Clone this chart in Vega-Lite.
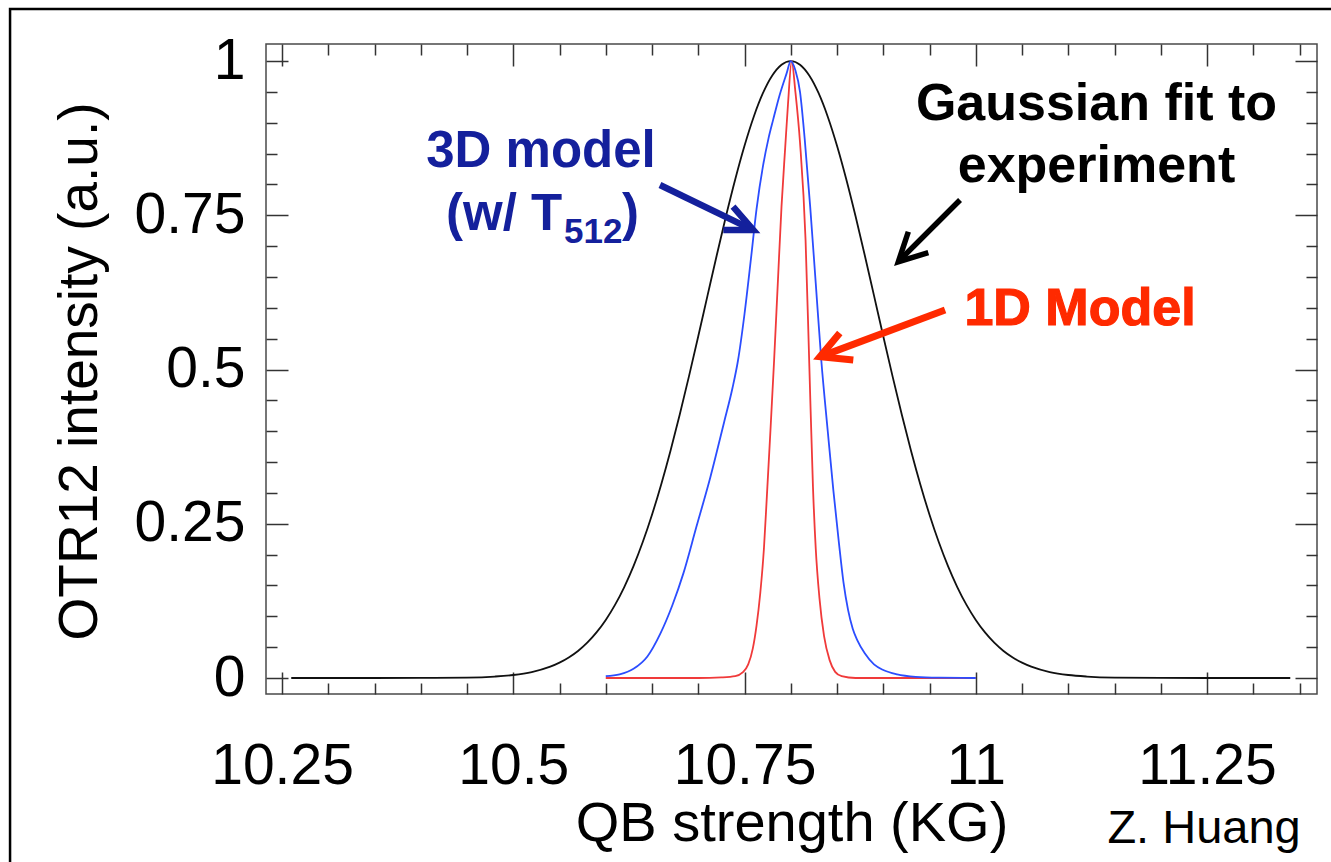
{
  "$schema": "https://vega.github.io/schema/vega-lite/v6.json",
  "width": 1051,
  "height": 650,
  "autosize": {"type": "none"},
  "padding": {"left": 266, "top": 44, "right": 14, "bottom": 168},
  "background": "white",
  "config": {"view": {"stroke": "#4a4a4a", "strokeWidth": 1.5}, "font": "Liberation Sans"},
  "datasets": {
    "curves": [
      {"s": "fit", "x": 10.26, "y": 0}, {"s": "fit", "x": 10.30, "y": 0}, {"s": "fit", "x": 10.35, "y": 0}, {"s": "fit", "x": 10.40, "y": 0.0001}, {"s": "fit", "x": 10.45, "y": 0.0007}, {"s": "fit", "x": 10.48, "y": 0.0024}, {"s": "fit", "x": 10.50, "y": 0.0049}, {"s": "fit", "x": 10.52, "y": 0.0097}, {"s": "fit", "x": 10.54, "y": 0.0184}, {"s": "fit", "x": 10.55, "y": 0.0249}, {"s": "fit", "x": 10.56, "y": 0.0333}, {"s": "fit", "x": 10.57, "y": 0.0439}, {"s": "fit", "x": 10.58, "y": 0.0573}, {"s": "fit", "x": 10.59, "y": 0.0739}, {"s": "fit", "x": 10.60, "y": 0.0941}, {"s": "fit", "x": 10.61, "y": 0.1185}, {"s": "fit", "x": 10.62, "y": 0.1475}, {"s": "fit", "x": 10.63, "y": 0.1814}, {"s": "fit", "x": 10.64, "y": 0.2204}, {"s": "fit", "x": 10.65, "y": 0.2647}, {"s": "fit", "x": 10.66, "y": 0.3142}, {"s": "fit", "x": 10.67, "y": 0.3685}, {"s": "fit", "x": 10.68, "y": 0.4271}, {"s": "fit", "x": 10.69, "y": 0.4893}, {"s": "fit", "x": 10.70, "y": 0.5539}, {"s": "fit", "x": 10.71, "y": 0.6197}, {"s": "fit", "x": 10.72, "y": 0.6852}, {"s": "fit", "x": 10.73, "y": 0.7487}, {"s": "fit", "x": 10.74, "y": 0.8084}, {"s": "fit", "x": 10.75, "y": 0.8627}, {"s": "fit", "x": 10.76, "y": 0.9098}, {"s": "fit", "x": 10.77, "y": 0.9482}, {"s": "fit", "x": 10.78, "y": 0.9766}, {"s": "fit", "x": 10.79, "y": 0.9941}, {"s": "fit", "x": 10.80, "y": 1}, {"s": "fit", "x": 10.81, "y": 0.9941}, {"s": "fit", "x": 10.82, "y": 0.9766}, {"s": "fit", "x": 10.83, "y": 0.9482}, {"s": "fit", "x": 10.84, "y": 0.9098}, {"s": "fit", "x": 10.85, "y": 0.8627}, {"s": "fit", "x": 10.86, "y": 0.8084}, {"s": "fit", "x": 10.87, "y": 0.7487}, {"s": "fit", "x": 10.88, "y": 0.6852}, {"s": "fit", "x": 10.89, "y": 0.6197}, {"s": "fit", "x": 10.90, "y": 0.5539}, {"s": "fit", "x": 10.91, "y": 0.4893}, {"s": "fit", "x": 10.92, "y": 0.4271}, {"s": "fit", "x": 10.93, "y": 0.3685}, {"s": "fit", "x": 10.94, "y": 0.3142}, {"s": "fit", "x": 10.95, "y": 0.2647}, {"s": "fit", "x": 10.96, "y": 0.2204}, {"s": "fit", "x": 10.97, "y": 0.1814}, {"s": "fit", "x": 10.98, "y": 0.1475}, {"s": "fit", "x": 10.99, "y": 0.1185}, {"s": "fit", "x": 11.00, "y": 0.0941}, {"s": "fit", "x": 11.01, "y": 0.0739}, {"s": "fit", "x": 11.02, "y": 0.0573}, {"s": "fit", "x": 11.03, "y": 0.0439}, {"s": "fit", "x": 11.04, "y": 0.0333}, {"s": "fit", "x": 11.05, "y": 0.0249}, {"s": "fit", "x": 11.06, "y": 0.0184}, {"s": "fit", "x": 11.08, "y": 0.0097}, {"s": "fit", "x": 11.10, "y": 0.0049}, {"s": "fit", "x": 11.12, "y": 0.0024}, {"s": "fit", "x": 11.15, "y": 0.0007}, {"s": "fit", "x": 11.20, "y": 0.0001}, {"s": "fit", "x": 11.25, "y": 0}, {"s": "fit", "x": 11.30, "y": 0}, {"s": "fit", "x": 11.34, "y": 0},
      {"s": "1d", "x": 10.600, "y": 0}, {"s": "1d", "x": 10.700, "y": 0}, {"s": "1d", "x": 10.725, "y": 0.001}, {"s": "1d", "x": 10.740, "y": 0.003}, {"s": "1d", "x": 10.748, "y": 0.009}, {"s": "1d", "x": 10.754, "y": 0.022}, {"s": "1d", "x": 10.759, "y": 0.048}, {"s": "1d", "x": 10.763, "y": 0.085}, {"s": "1d", "x": 10.767, "y": 0.137}, {"s": "1d", "x": 10.771, "y": 0.21}, {"s": "1d", "x": 10.774, "y": 0.29}, {"s": "1d", "x": 10.778, "y": 0.40}, {"s": "1d", "x": 10.782, "y": 0.515}, {"s": "1d", "x": 10.786, "y": 0.64}, {"s": "1d", "x": 10.790, "y": 0.764}, {"s": "1d", "x": 10.794, "y": 0.86}, {"s": "1d", "x": 10.797, "y": 0.93}, {"s": "1d", "x": 10.801, "y": 1.0}, {"s": "1d", "x": 10.805, "y": 0.95}, {"s": "1d", "x": 10.810, "y": 0.868}, {"s": "1d", "x": 10.816, "y": 0.71}, {"s": "1d", "x": 10.820, "y": 0.51}, {"s": "1d", "x": 10.824, "y": 0.31}, {"s": "1d", "x": 10.827, "y": 0.21}, {"s": "1d", "x": 10.831, "y": 0.13}, {"s": "1d", "x": 10.836, "y": 0.068}, {"s": "1d", "x": 10.842, "y": 0.029}, {"s": "1d", "x": 10.848, "y": 0.010}, {"s": "1d", "x": 10.855, "y": 0.003}, {"s": "1d", "x": 10.870, "y": 0}, {"s": "1d", "x": 10.950, "y": 0}, {"s": "1d", "x": 11.000, "y": 0},
      {"s": "3d", "x": 10.600, "y": 0.003}, {"s": "3d", "x": 10.615, "y": 0.006}, {"s": "3d", "x": 10.630, "y": 0.015}, {"s": "3d", "x": 10.645, "y": 0.035}, {"s": "3d", "x": 10.659, "y": 0.072}, {"s": "3d", "x": 10.672, "y": 0.118}, {"s": "3d", "x": 10.684, "y": 0.170}, {"s": "3d", "x": 10.698, "y": 0.245}, {"s": "3d", "x": 10.713, "y": 0.325}, {"s": "3d", "x": 10.728, "y": 0.415}, {"s": "3d", "x": 10.737, "y": 0.47}, {"s": "3d", "x": 10.743, "y": 0.515}, {"s": "3d", "x": 10.750, "y": 0.59}, {"s": "3d", "x": 10.757, "y": 0.68}, {"s": "3d", "x": 10.763, "y": 0.76}, {"s": "3d", "x": 10.770, "y": 0.83}, {"s": "3d", "x": 10.776, "y": 0.875}, {"s": "3d", "x": 10.781, "y": 0.905}, {"s": "3d", "x": 10.788, "y": 0.945}, {"s": "3d", "x": 10.7955, "y": 0.980}, {"s": "3d", "x": 10.800, "y": 1.0}, {"s": "3d", "x": 10.805, "y": 0.985}, {"s": "3d", "x": 10.810, "y": 0.950}, {"s": "3d", "x": 10.815, "y": 0.875}, {"s": "3d", "x": 10.821, "y": 0.764}, {"s": "3d", "x": 10.827, "y": 0.640}, {"s": "3d", "x": 10.833, "y": 0.515}, {"s": "3d", "x": 10.840, "y": 0.400}, {"s": "3d", "x": 10.846, "y": 0.305}, {"s": "3d", "x": 10.852, "y": 0.220}, {"s": "3d", "x": 10.857, "y": 0.155}, {"s": "3d", "x": 10.862, "y": 0.110}, {"s": "3d", "x": 10.867, "y": 0.080}, {"s": "3d", "x": 10.872, "y": 0.061}, {"s": "3d", "x": 10.880, "y": 0.040}, {"s": "3d", "x": 10.890, "y": 0.022}, {"s": "3d", "x": 10.900, "y": 0.013}, {"s": "3d", "x": 10.915, "y": 0.006}, {"s": "3d", "x": 10.935, "y": 0.002}, {"s": "3d", "x": 10.960, "y": 0.0005}, {"s": "3d", "x": 11.000, "y": 0}
    ],
    "arrows": [
      {"a": "3d", "part": "shaft", "i": 0, "x": 10.6586, "y": 0.7990}, {"a": "3d", "part": "shaft", "i": 1, "x": 10.7560, "y": 0.7283},
      {"a": "3d", "part": "head", "i": 0, "x": 10.7376, "y": 0.7639}, {"a": "3d", "part": "head", "i": 1, "x": 10.7595, "y": 0.7261}, {"a": "3d", "part": "head", "i": 2, "x": 10.7271, "y": 0.7261},
      {"a": "fit", "part": "shaft", "i": 0, "x": 10.983, "y": 0.7747}, {"a": "fit", "part": "shaft", "i": 1, "x": 10.919, "y": 0.679},
      {"a": "fit", "part": "head", "i": 0, "x": 10.9271, "y": 0.7233}, {"a": "fit", "part": "head", "i": 1, "x": 10.9163, "y": 0.6747}, {"a": "fit", "part": "head", "i": 2, "x": 10.9487, "y": 0.6893},
      {"a": "1d", "part": "shaft", "i": 0, "x": 10.9668, "y": 0.5964}, {"a": "1d", "part": "shaft", "i": 1, "x": 10.835, "y": 0.5225},
      {"a": "1d", "part": "head", "i": 0, "x": 10.8530, "y": 0.5592}, {"a": "1d", "part": "head", "i": 1, "x": 10.8316, "y": 0.5207}, {"a": "1d", "part": "head", "i": 2, "x": 10.8676, "y": 0.5154}
    ],
    "notes": [
      {"g": "fit", "x": 11.1305, "y": 0.9044, "t": "Gaussian fit to"},
      {"g": "fit", "x": 11.1305, "y": 0.8039, "t": "experiment"},
      {"g": "3d", "x": 10.53, "y": 0.8282, "t": "3D model"},
      {"g": "3dl", "x": 10.4273, "y": 0.7261, "t": "(w/ T"},
      {"g": "sub", "x": 10.5549, "y": 0.7045, "t": "512"},
      {"g": "3dl", "x": 10.6176, "y": 0.7261, "t": ")"},
      {"g": "1d", "x": 11.1127, "y": 0.5721, "t": "1D Model"},
      {"g": "credit", "x": 11.2468, "y": -0.2674, "t": "Z. Huang"}
    ],
    "border": [{"x1": 9.956, "x2": 11.6, "y1": 1.0843, "y2": -0.5}]
  },
  "layer": [
    {
      "data": {"name": "border"},
      "mark": {"type": "rect", "fill": null, "filled": false, "stroke": "black", "strokeWidth": 2.5, "clip": false},
      "encoding": {
        "x": {"field": "x1", "type": "quantitative", "scale": {"domain": [10.2327, 11.3689], "nice": false, "zero": false}, "axis": null},
        "x2": {"field": "x2"},
        "y": {"field": "y1", "type": "quantitative", "scale": {"domain": [-0.0259, 1.0276], "nice": false, "zero": false}, "axis": null},
        "y2": {"field": "y2"}
      }
    },
    {
      "data": {"name": "curves"},
      "transform": [{"filter": "datum.s == 'fit'"}],
      "mark": {"type": "line", "color": "#111111", "strokeWidth": 1.8, "interpolate": "monotone"},
      "encoding": {
        "x": {"field": "x", "type": "quantitative", "scale": {"domain": [10.2327, 11.3689], "nice": false, "zero": false},
          "axis": {"orient": "bottom", "values": [10.25, 10.3, 10.35, 10.4, 10.45, 10.5, 10.55, 10.6, 10.65, 10.7, 10.75, 10.8, 10.85, 10.9, 10.95, 11, 11.05, 11.1, 11.15, 11.2, 11.25, 11.3, 11.35],
            "domain": false, "grid": false, "tickSize": -22, "tickWidth": 1.5, "tickColor": "#333333",
            "tickDash": {"condition": {"test": "abs(datum.value*4-round(datum.value*4))<0.01", "value": [22, 40]}, "value": [11, 40]},
            "labelExpr": "abs(datum.value*4-round(datum.value*4))<0.01 ? toString(round(datum.value*100)/100) : ''",
            "labelFontSize": 57, "labelColor": "black", "labelPadding": 66, "labelFlush": false, "labelOverlap": false, "labelBaseline": "top", "labelFont": "Liberation Sans",
            "title": "QB strength (KG)", "titleFontSize": 56, "titleFontWeight": "normal", "titleColor": "black", "titleFont": "Liberation Sans", "titleY": 146, "titleBaseline": "alphabetic"}},
        "y": {"field": "y", "type": "quantitative", "scale": {"domain": [-0.0259, 1.0276], "nice": false, "zero": false},
          "axis": {"orient": "left", "values": [0, 0.05, 0.1, 0.15, 0.2, 0.25, 0.3, 0.35, 0.4, 0.45, 0.5, 0.55, 0.6, 0.65, 0.7, 0.75, 0.8, 0.85, 0.9, 0.95, 1],
            "domain": false, "grid": false, "tickSize": -22, "tickWidth": 1.5, "tickColor": "#333333",
            "tickDash": {"condition": {"test": "abs(datum.value*4-round(datum.value*4))<0.01", "value": [22, 40]}, "value": [11, 40]},
            "labelExpr": "abs(datum.value*4-round(datum.value*4))<0.01 ? toString(round(datum.value*100)/100) : ''",
            "labelFontSize": 57, "labelColor": "black", "labelPadding": 43, "labelFlush": false, "labelOverlap": false, "labelFont": "Liberation Sans",
            "title": "OTR12 intensity (a.u.)", "titleFontSize": 55, "titleFontWeight": "normal", "titleColor": "black", "titleFont": "Liberation Sans", "titleX": -170, "titleY": 327, "titleAngle": -90, "titleBaseline": "alphabetic", "titleAlign": "center"}}
      }
    },
    {
      "data": {"name": "curves"},
      "transform": [{"filter": "datum.s == '1d'"}],
      "mark": {"type": "line", "color": "#f03a3a", "strokeWidth": 1.8, "interpolate": "monotone"},
      "encoding": {
        "x": {"field": "x", "type": "quantitative", "scale": {"domain": [10.2327, 11.3689], "nice": false, "zero": false},
          "axis": {"orient": "top", "values": [10.25, 10.3, 10.35, 10.4, 10.45, 10.5, 10.55, 10.6, 10.65, 10.7, 10.75, 10.8, 10.85, 10.9, 10.95, 11, 11.05, 11.1, 11.15, 11.2, 11.25, 11.3, 11.35],
            "domain": false, "grid": false, "labels": false, "title": null, "tickSize": -22, "tickWidth": 1.5, "tickColor": "#333333",
            "tickDash": {"condition": {"test": "abs(datum.value*4-round(datum.value*4))<0.01", "value": [22, 40]}, "value": [11, 40]}}},
        "y": {"field": "y", "type": "quantitative", "scale": {"domain": [-0.0259, 1.0276], "nice": false, "zero": false},
          "axis": {"orient": "right", "values": [0, 0.05, 0.1, 0.15, 0.2, 0.25, 0.3, 0.35, 0.4, 0.45, 0.5, 0.55, 0.6, 0.65, 0.7, 0.75, 0.8, 0.85, 0.9, 0.95, 1],
            "domain": false, "grid": false, "labels": false, "title": null, "tickSize": -22, "tickWidth": 1.5, "tickColor": "#333333",
            "tickDash": {"condition": {"test": "abs(datum.value*4-round(datum.value*4))<0.01", "value": [22, 40]}, "value": [11, 40]}}}
      }
    },
    {
      "data": {"name": "curves"},
      "transform": [{"filter": "datum.s == '3d'"}],
      "mark": {"type": "line", "color": "#2b4dff", "strokeWidth": 1.8, "interpolate": "monotone"},
      "encoding": {
        "x": {"field": "x", "type": "quantitative", "scale": {"domain": [10.2327, 11.3689], "nice": false, "zero": false}, "axis": null},
        "y": {"field": "y", "type": "quantitative", "scale": {"domain": [-0.0259, 1.0276], "nice": false, "zero": false}, "axis": null}
      }
    },
    {
      "data": {"name": "arrows"},
      "transform": [{"filter": "datum.a == '3d'"}],
      "mark": {"type": "line", "color": "#14209c", "strokeWidth": 6.5, "strokeJoin": "miter", "strokeCap": "butt"},
      "encoding": {
        "x": {"field": "x", "type": "quantitative", "scale": {"domain": [10.2327, 11.3689], "nice": false, "zero": false}, "axis": null},
        "y": {"field": "y", "type": "quantitative", "scale": {"domain": [-0.0259, 1.0276], "nice": false, "zero": false}, "axis": null},
        "detail": {"field": "part"},
        "order": {"field": "i"}
      }
    },
    {
      "data": {"name": "arrows"},
      "transform": [{"filter": "datum.a == 'fit'"}],
      "mark": {"type": "line", "color": "#000000", "strokeWidth": 5.5, "strokeJoin": "miter", "strokeCap": "butt"},
      "encoding": {
        "x": {"field": "x", "type": "quantitative", "scale": {"domain": [10.2327, 11.3689], "nice": false, "zero": false}, "axis": null},
        "y": {"field": "y", "type": "quantitative", "scale": {"domain": [-0.0259, 1.0276], "nice": false, "zero": false}, "axis": null},
        "detail": {"field": "part"},
        "order": {"field": "i"}
      }
    },
    {
      "data": {"name": "arrows"},
      "transform": [{"filter": "datum.a == '1d'"}],
      "mark": {"type": "line", "color": "#ff2a00", "strokeWidth": 7, "strokeJoin": "miter", "strokeCap": "butt"},
      "encoding": {
        "x": {"field": "x", "type": "quantitative", "scale": {"domain": [10.2327, 11.3689], "nice": false, "zero": false}, "axis": null},
        "y": {"field": "y", "type": "quantitative", "scale": {"domain": [-0.0259, 1.0276], "nice": false, "zero": false}, "axis": null},
        "detail": {"field": "part"},
        "order": {"field": "i"}
      }
    },
    {
      "data": {"name": "notes"},
      "transform": [{"filter": "datum.g == 'fit'"}],
      "mark": {"type": "text", "font": "Liberation Sans", "fontWeight": "bold", "fontSize": 52, "color": "black", "align": "center", "baseline": "alphabetic"},
      "encoding": {
        "x": {"field": "x", "type": "quantitative", "scale": {"domain": [10.2327, 11.3689], "nice": false, "zero": false}, "axis": null},
        "y": {"field": "y", "type": "quantitative", "scale": {"domain": [-0.0259, 1.0276], "nice": false, "zero": false}, "axis": null},
        "text": {"field": "t"}
      }
    },
    {
      "data": {"name": "notes"},
      "transform": [{"filter": "datum.g == '3d'"}],
      "mark": {"type": "text", "font": "Liberation Sans", "fontWeight": "bold", "fontSize": 51, "color": "#14209c", "align": "center", "baseline": "alphabetic"},
      "encoding": {
        "x": {"field": "x", "type": "quantitative", "scale": {"domain": [10.2327, 11.3689], "nice": false, "zero": false}, "axis": null},
        "y": {"field": "y", "type": "quantitative", "scale": {"domain": [-0.0259, 1.0276], "nice": false, "zero": false}, "axis": null},
        "text": {"field": "t"}
      }
    },
    {
      "data": {"name": "notes"},
      "transform": [{"filter": "datum.g == '3dl'"}],
      "mark": {"type": "text", "font": "Liberation Sans", "fontWeight": "bold", "fontSize": 51, "color": "#14209c", "align": "left", "baseline": "alphabetic"},
      "encoding": {
        "x": {"field": "x", "type": "quantitative", "scale": {"domain": [10.2327, 11.3689], "nice": false, "zero": false}, "axis": null},
        "y": {"field": "y", "type": "quantitative", "scale": {"domain": [-0.0259, 1.0276], "nice": false, "zero": false}, "axis": null},
        "text": {"field": "t"}
      }
    },
    {
      "data": {"name": "notes"},
      "transform": [{"filter": "datum.g == 'sub'"}],
      "mark": {"type": "text", "font": "Liberation Sans", "fontWeight": "bold", "fontSize": 35, "color": "#14209c", "align": "left", "baseline": "alphabetic"},
      "encoding": {
        "x": {"field": "x", "type": "quantitative", "scale": {"domain": [10.2327, 11.3689], "nice": false, "zero": false}, "axis": null},
        "y": {"field": "y", "type": "quantitative", "scale": {"domain": [-0.0259, 1.0276], "nice": false, "zero": false}, "axis": null},
        "text": {"field": "t"}
      }
    },
    {
      "data": {"name": "notes"},
      "transform": [{"filter": "datum.g == '1d'"}],
      "mark": {"type": "text", "font": "Liberation Sans", "fontWeight": "bold", "fontSize": 52, "color": "#ff2a00", "stroke": "#ff2a00", "strokeWidth": 1.2, "align": "center", "baseline": "alphabetic"},
      "encoding": {
        "x": {"field": "x", "type": "quantitative", "scale": {"domain": [10.2327, 11.3689], "nice": false, "zero": false}, "axis": null},
        "y": {"field": "y", "type": "quantitative", "scale": {"domain": [-0.0259, 1.0276], "nice": false, "zero": false}, "axis": null},
        "text": {"field": "t"}
      }
    },
    {
      "data": {"name": "notes"},
      "transform": [{"filter": "datum.g == 'credit'"}],
      "mark": {"type": "text", "font": "Liberation Sans", "fontWeight": "normal", "fontSize": 47, "color": "black", "align": "center", "baseline": "alphabetic", "clip": false},
      "encoding": {
        "x": {"field": "x", "type": "quantitative", "scale": {"domain": [10.2327, 11.3689], "nice": false, "zero": false}, "axis": null},
        "y": {"field": "y", "type": "quantitative", "scale": {"domain": [-0.0259, 1.0276], "nice": false, "zero": false}, "axis": null},
        "text": {"field": "t"}
      }
    }
  ],
  "resolve": {"axis": {"x": "independent", "y": "independent"}}
}
